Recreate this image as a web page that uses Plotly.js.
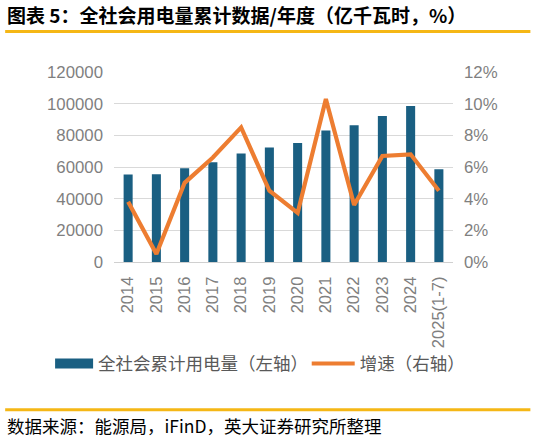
<!DOCTYPE html>
<html><head><meta charset="utf-8">
<script src="https://cdn.plot.ly/plotly-3.0.1.min.js"></script>
<style>html,body{margin:0;padding:0;background:#fff;}#chart{width:536px;height:440px;}</style>
</head><body><div id="chart"></div>
<script>
const categories = ["2014","2015","2016","2017","2018","2019","2020","2021","2022","2023","2024","2025(1-7)"];
const consumption = [55233,55500,59198,63077,68449,72255,75110,83128,86372,92241,98521,58633];
const growth = [3.8,0.5,5.0,6.6,8.5,4.5,3.1,10.3,3.6,6.7,6.8,4.5];
const leftTicks = [0,20000,40000,60000,80000,100000,120000];
const rightTicks = [0,2,4,6,8,10,12];
const rightTickLabels = ["0%","2%","4%","6%","8%","10%","12%"];

const BAR = "#1A5F82", LINE = "#ED7D31", GOLD = "#F5B716", GRAY = "#7F7F7F";
const numFont = {family:"Liberation Sans, Arial, sans-serif", size:16.8, color:GRAY};
const xFont = {family:"Liberation Sans, Arial, sans-serif", size:16.5, color:GRAY};
const cjk = "Noto Sans CJK SC, sans-serif";

const W = 536, H = 440, L = 114, R = 82.5, T = 72.3, B = 178.3;
const plotH = H - T - B, plotW = W - L - R;
const py = p => (H - B - p) / plotH;   // pixel row -> paper y
const px = p => (p - L) / plotW;       // pixel col -> paper x

const traces = [
  {type:"bar", x:categories, y:consumption, name:"全社会累计用电量（左轴）",
   marker:{color:BAR}, showlegend:false, hoverinfo:"skip"},
  {type:"scatter", mode:"lines", x:[null], y:[null], name:"全社会累计用电量（左轴）",
   line:{color:BAR, width:11}, showlegend:true, legend:"legend"},
  {type:"scatter", mode:"lines", x:categories, y:growth, yaxis:"y2", name:"增速（右轴）",
   line:{color:LINE, width:4.2}, showlegend:true, legend:"legend2"}
];

const legFont = {family:cjk, size:17.5, color:"#595959"};
const layout = {
  width:W, height:H,
  margin:{l:L, r:R, t:T, b:B},
  paper_bgcolor:"#fff", plot_bgcolor:"#fff",
  bargap:0.68,
  showlegend:true,
  legend:{orientation:"v", xref:"paper", x:px(50), xanchor:"left", yref:"paper", y:py(363), yanchor:"middle",
          font:legFont, itemwidth:38, itemclick:false, bgcolor:"rgba(0,0,0,0)"},
  legend2:{orientation:"v", xref:"paper", x:px(307), xanchor:"left", yref:"paper", y:py(363), yanchor:"middle",
          font:legFont, itemwidth:43, itemclick:false, bgcolor:"rgba(0,0,0,0)"},
  xaxis:{type:"category", tickangle:-90, tickfont:xFont, showgrid:false,
         showline:true, linecolor:"#D0D0D0", linewidth:1, ticks:"", ticklabelstandoff:7},
  yaxis:{range:[0,120000], tickvals:leftTicks, ticktext:leftTicks.map(String), tickfont:numFont,
         showgrid:true, gridcolor:"#D9D9D9", gridwidth:1, zeroline:false, ticks:"",
         ticklabelstandoff:10},
  yaxis2:{range:[0,12], overlaying:"y", side:"right", tickvals:rightTicks, ticktext:rightTickLabels,
          tickfont:numFont, showgrid:false, zeroline:false, ticks:"", ticklabelstandoff:10},
  shapes:[
    {type:"line", xref:"paper", yref:"paper", x0:px(5), x1:px(531), y0:py(32), y1:py(32),
     line:{color:GOLD, width:3}},
    {type:"line", xref:"paper", yref:"paper", x0:px(5), x1:px(531), y0:py(409), y1:py(409),
     line:{color:GOLD, width:3}}
  ],
  title:{text:"<b>图表 5：全社会用电量累计数据/年度（亿千瓦时，%）</b>", x:7/W, xanchor:"left",
         xref:"container", y:1-16/H, yref:"container", yanchor:"middle",
         font:{family:cjk, size:19, color:"#000"}},
  annotations:[
    {text:"数据来源：能源局，iFinD，英大证券研究所整理", xref:"paper", yref:"paper",
     x:px(5), xanchor:"left", y:py(425), yanchor:"middle", showarrow:false,
     font:{family:cjk, size:17.5, color:"#000"}}
  ]
};
Plotly.newPlot("chart", traces, layout, {staticPlot:true, displayModeBar:false});
</script></body></html>
